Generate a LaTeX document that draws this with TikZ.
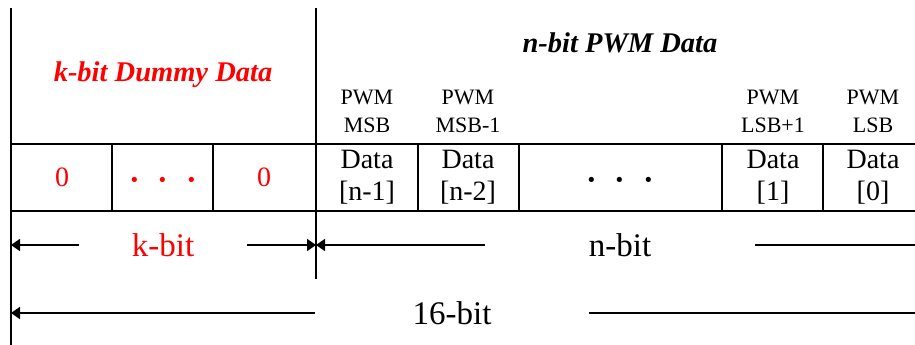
\documentclass[tikz,border=0pt]{standalone}
\usepackage{fontspec}
\setmainfont{Liberation Serif}
\usetikzlibrary{arrows.meta, positioning}

\begin{document}
\begin{tikzpicture}[x=1pt, y=-1pt, line width=1.8pt,
    head/.style={font=\bfseries\itshape\fontsize{28.5}{32}\selectfont},
    pwmlbl/.style={font=\fontsize{22}{28}\selectfont, align=center},
    datacell/.style={font=\fontsize{28}{32}\selectfont, align=center},
    dots/.style={font=\fontsize{44}{44}\selectfont},
    dimlbl/.style={font=\fontsize{33}{36}\selectfont, inner ysep=0pt},
    dim/.style={-{Triangle[length=9pt, width=12pt]}}]
    \useasboundingbox (0,0) rectangle (915,345);

    % Frame of the table
    \draw (11,8) -- (11,345);
    \draw (316,8) -- (316,279);
    \draw (11,144) -- (915,144);
    \draw (11,211) -- (915,211);
    \foreach \x in {112,213,418,519,722,823}
        \draw (\x,144) -- (\x,211);

    % Headings
    \node[head, red] (dummy) at (163,75) {k-bit Dummy Data};
    \node[head] (pwmdata) at (620,43) {n-bit PWM Data};

    % Bit labels
    \node[pwmlbl] (msb)  at (367,111) {PWM\\MSB};
    \node[pwmlbl] (msbm) at (468,111) {PWM\\MSB-1};
    \node[pwmlbl] (lsbp) at (773,111) {PWM\\LSB+1};
    \node[pwmlbl] (lsb)  at (873,111) {PWM\\LSB};

    % Data row
    \node[datacell, red] (zeroa) at (62,177) {0};
    \node[dots, red] (kdots) at (163,186) {·\hspace{14pt}·\hspace{14pt}·};
    \node[datacell, red] (zerob) at (264,177) {0};
    \node[datacell] (dn1) at (367,177) {Data\\{[n-1]}};
    \node[datacell] (dn2) at (468,177) {Data\\{[n-2]}};
    \node[dots] (ndots) at (620,186) {·\hspace{14pt}·\hspace{14pt}·};
    \node[datacell] (d1) at (773,177) {Data\\{[1]}};
    \node[datacell] (d0) at (873,177) {Data\\{[0]}};

    % Widths
    \coordinate (kleft) at (11,245);
    \coordinate (kright) at (316,245);
    \coordinate (nright) at (915,245);
    \coordinate (tleft) at (11,313);
    \coordinate (tright) at (915,313);
    \node[dimlbl, red, inner xsep=52pt] (kbit) at (163,245) {k-bit};
    \node[dimlbl, inner xsep=103pt] (nbit) at (620,245) {n-bit};
    \node[dimlbl, inner xsep=97pt] (tbit) at (452,313) {16-bit};
    \draw[dim] (kbit) -- (kleft);
    \draw[dim] (kbit) -- (kright);
    \draw[dim] (nbit) -- (kright);
    \draw (nbit) -- (nright);
    \draw[dim] (tbit) -- (tleft);
    \draw (tbit) -- (tright);
\end{tikzpicture}
\end{document}
